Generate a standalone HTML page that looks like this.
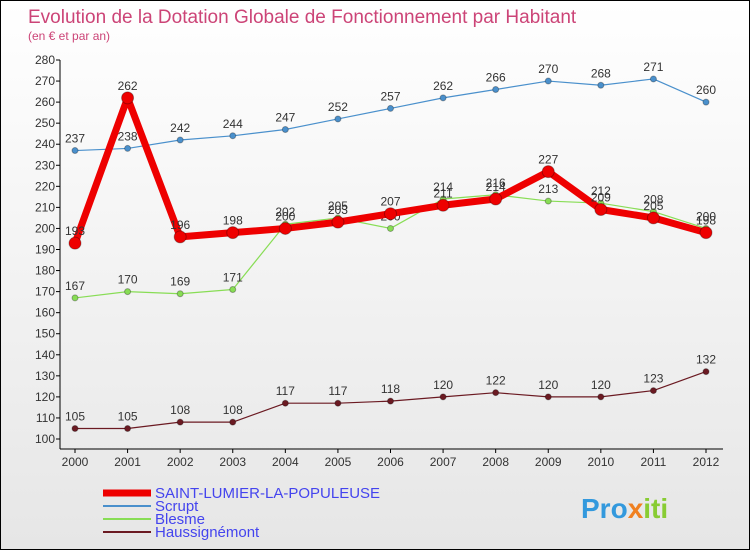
<!DOCTYPE html>
<html><head><meta charset="utf-8"><style>
body{margin:0;width:750px;height:550px;overflow:hidden;font-family:"Liberation Sans",sans-serif}
#wrap{position:relative;width:748px;height:548px;border:1px solid #000;background:linear-gradient(#fff,#e6e6e6)}
</style></head><body>
<div id="wrap">
<svg id="chart" width="748" height="548"></svg>
</div>
<script>
const years=[2000,2001,2002,2003,2004,2005,2006,2007,2008,2009,2010,2011,2012];
const saintLumier=[193,262,196,198,200,203,207,211,214,227,209,205,198];
const scrupt=[237,238,242,244,247,252,257,262,266,270,268,271,260];
const blesme=[167,170,169,171,202,205,200,214,216,213,212,208,200];
const haussignemont=[105,105,108,108,117,117,118,120,122,120,120,123,132];
const yTicks=[100,110,120,130,140,150,160,170,180,190,200,210,220,230,240,250,260,270,280];
const seriesNames=["SAINT-LUMIER-LA-POPULEUSE","Scrupt","Blesme","Haussignémont"];
const NS="http://www.w3.org/2000/svg";
const svg=document.getElementById('chart');
function x(i){return 74+i*(705-74)/(years.length-1);}
function y(v){return 438-(v-100)*(438-59)/180;}
function mk(t,a,p){const e=document.createElementNS(NS,t);for(const k in a)e.setAttribute(k,a[k]);(p||svg).appendChild(e);return e;}
let t=mk('text',{x:27,y:22,'font-size':19,fill:'#cc4477'});t.textContent='Evolution de la Dotation Globale de Fonctionnement par Habitant';

t=mk('text',{x:27,y:39,'font-size':12,fill:'#cc4477'});t.textContent='(en € et par an)';

let a=mk('line',{x1:59,y1:59,x2:59,y2:448,stroke:'#000'});

a=mk('line',{x1:59,y1:448,x2:722,y2:448,stroke:'#000'});

yTicks.forEach(v=>{
 const k=mk('line',{x1:55,y1:y(v),x2:59,y2:y(v),stroke:'#000'});
 
 const l=mk('text',{x:54,y:y(v)+4,'font-size':12,'text-anchor':'end',fill:'#333'});l.textContent=v;
 
});
years.forEach((yr,i)=>{
 const k=mk('line',{x1:x(i),y1:448,x2:x(i),y2:452,stroke:'#000'});
 
 const l=mk('text',{x:x(i),y:465,'font-size':12,'text-anchor':'middle',fill:'#333'});l.textContent=yr;
 
});
function series(vals,color,w,r,name){
 const g=mk('g',{});
 const p=mk('polyline',{points:vals.map((v,i)=>x(i)+','+y(v)).join(' '),fill:'none',stroke:color,'stroke-width':w,'stroke-linejoin':'round'},g);
 
 vals.forEach((v,i)=>{
  const c=mk('circle',{cx:x(i),cy:y(v),r:r,fill:color,stroke:'rgba(0,0,0,0.3)'},g);
  
  const l=mk('text',{x:x(i),y:y(v)-8,'font-size':12,'text-anchor':'middle',fill:'#333'},g);l.textContent=v;
  
 });
}
series(haussignemont,'#6b1a22',1.2,3,'haussignemont-series');
series(scrupt,'#4a90cc',1.2,3,'scrupt-series');
series(blesme,'#88dd55',1.2,3,'blesme-series');
series(saintLumier,'#ee0000',7,6,'saint-lumier-series');
const lc=['#ee0000','#4a90cc','#88dd55','#6b1a22'],lw=[7,2,2,2];
seriesNames.forEach((n,i)=>{
 const yy=492+i*13;
 const g=mk('g',{});
 mk('line',{x1:102,y1:yy,x2:150,y2:yy,stroke:lc[i],'stroke-width':lw[i]},g);
 const l=mk('text',{x:154,y:yy+5,'font-size':15,fill:'#4444ee'},g);l.textContent=n;
});
const lg=mk('text',{x:580,y:517,'font-size':28,'font-weight':'bold',fill:'#f0a020'});

lg.innerHTML='<tspan fill="#3399dd">Pro</tspan><tspan fill="#f08020">x</tspan><tspan fill="#88cc33">iti</tspan>';
</script>
</body></html>
